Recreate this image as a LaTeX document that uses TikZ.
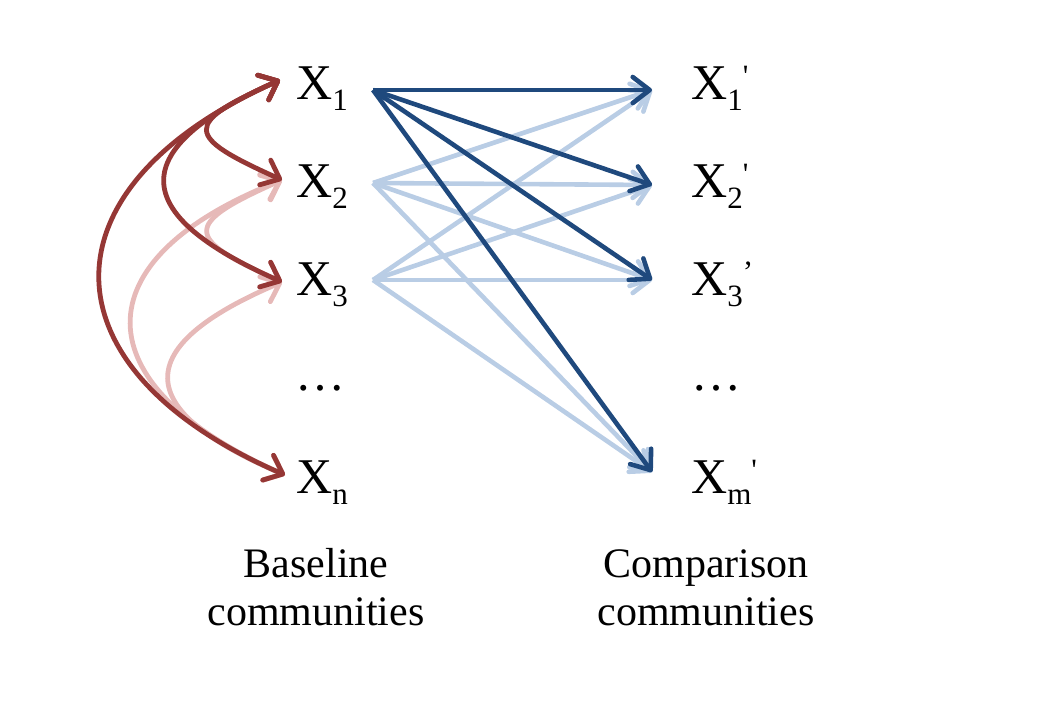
\documentclass[tikz,border=0pt]{standalone}
\usepackage{fontspec}
\setmainfont{Liberation Serif}
\usetikzlibrary{arrows.meta}
\definecolor{dred}{HTML}{953735}
\definecolor{lred}{HTML}{E6B9B8}
\definecolor{dblue}{HTML}{1F497D}
\definecolor{lblue}{HTML}{B9CDE5}
\newcommand{\subX}[2]{{\fontsize{50}{60}\selectfont X\raisebox{-11pt}{\fontsize{31}{31}\selectfont #1}#2}}
\newcommand{\prm}[1]{\raisebox{13pt}{\fontsize{31}{31}\selectfont #1}}
\begin{document}
\begin{tikzpicture}[x=1pt,y=-1pt,
  lbl/.style={inner sep=0pt, anchor=base west},
  dotsl/.style={inner sep=0pt, anchor=base, font=\fontsize{50}{60}\selectfont},
  captxt/.style={font=\fontsize{42}{48}\selectfont, align=center, inner sep=0pt, anchor=base},
  redarc/.style={line width=4.8pt, {Straight Barb[length=16pt,width=27pt,round]}-{Straight Barb[length=16pt,width=27pt,round]}},
  darkred/.style={redarc, draw=dred},
  lightred/.style={redarc, draw=lred},
  bluearr/.style={line width=4.6pt, -{Straight Barb[length=17pt,width=26pt,round]}},
  darkblue/.style={bluearr, draw=dblue},
  lightblue/.style={bluearr, draw=lblue}]
\useasboundingbox (0,0) rectangle (1044,702);

% left labels
\node[lbl] (x1) at (296,99) {\subX{1}{}};
\node[lbl] (x2) at (296,197) {\subX{2}{}};
\node[lbl] (x3) at (296,295) {\subX{3}{}};
\node[dotsl] (xd) at (320,390) {…};
\node[lbl] (xn) at (296,493) {\subX{n}{}};

% right labels
\node[lbl] (y1) at (691,99) {\subX{1}{\prm{\textquotesingle}}};
\node[lbl] (y2) at (691,197) {\subX{2}{\prm{\textquotesingle}}};
\node[lbl] (y3) at (691,295) {\subX{3}{\prm{’}}};
\node[dotsl] (yd) at (716,390) {…};
\node[lbl] (ym) at (691,493) {\subX{m}{\prm{\textquotesingle}}};

% captions
\node[captxt] (cb) at (316,625) {Baseline\\communities};
\node[captxt] (cc) at (706,625) {Comparison\\communities};

% red arc end points
\coordinate (a1) at (280,80);
\coordinate (a2) at (282,180);
\coordinate (a3) at (282,282);
\coordinate (an) at (285,475);

% light red arcs
\draw[lightred] (a2) .. controls +(-99,44) and +(-99,-44) .. (a3);
\draw[lightred] (a2) .. controls +(-203,80) and +(-203,-90) .. (an);
\draw[lightred] (a3) .. controls +(-153,65) and +(-153,-65) .. (an);
% dark red arcs
\draw[darkred] (a1) .. controls +(-98,44) and +(-98,-44) .. (a2);
\draw[darkred] (a1) .. controls +(-154,69) and +(-156,-69) .. (a3);
\draw[darkred] (a1) .. controls +(-241,107) and +(-246,-107) .. (an);

% blue sources and targets
\coordinate (s1) at (373,90);
\coordinate (s2) at (373,183);
\coordinate (s3) at (373,280);
\coordinate (t1) at (652,90);
\coordinate (t2) at (652,185);
\coordinate (t3) at (652,280);
\coordinate (tm) at (652,472);

\foreach \s in {s2,s3}
  \foreach \t in {t1,t2,t3,tm}
    \draw[lightblue] (\s) -- (\t);
\foreach \t in {t1,t2,t3,tm}
  \draw[darkblue] (s1) -- (\t);
\end{tikzpicture}
\end{document}
